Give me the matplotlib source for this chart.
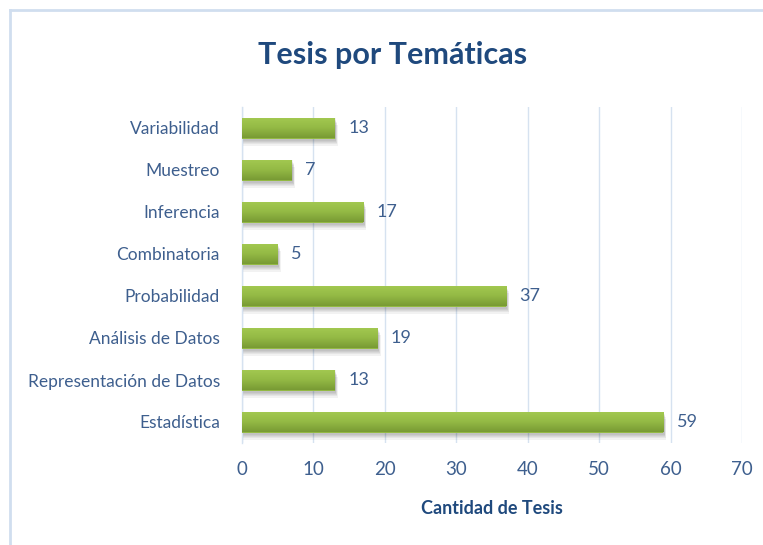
import matplotlib
matplotlib.use("Agg")
import matplotlib.pyplot as plt
import numpy as np
from matplotlib.patches import Rectangle
from matplotlib.lines import Line2D
from matplotlib.colors import LinearSegmentedColormap

categories = ["Variabilidad", "Muestreo", "Inferencia", "Combinatoria", "Probabilidad",
              "Análisis de Datos", "Representación de Datos", "Estadística"]
values = [13, 7, 17, 5, 37, 19, 13, 59]
xticks = [0, 10, 20, 30, 40, 50, 60, 70]

plt.rcParams['font.family'] = ['Lato', 'DejaVu Sans']
text_col = "#3E5F8E"
title_col = "#1F497D"
grid_col = "#D6E2F0"

fig = plt.figure(figsize=(7.63, 5.45), dpi=100)
ax = fig.add_axes([242/763, 1-443/545, 500/763, 336/545])

n = len(categories)
ypos = np.arange(n)[::-1]
h = 0.5

# soft shadows below bars
for y, v in zip(ypos, values):
    for k in range(6):
        ax.add_patch(Rectangle((0, y - h/2 - 0.02 - k*0.03), v + 0.1 + k*0.06, h,
                               facecolor="black", alpha=0.05, edgecolor="none", zorder=2))

bars = ax.barh(ypos, values, height=h, color="#93B944", edgecolor="none", zorder=3)
grad = np.linspace(0, 1, 100).reshape(-1, 1)
cmap = LinearSegmentedColormap.from_list("g", ["#A3C951", "#94BA45", "#789A34"])
for b in bars:
    x0, y0 = b.get_x(), b.get_y()
    w, hh = b.get_width(), b.get_height()
    im = ax.imshow(grad, extent=(x0, x0 + w, y0, y0 + hh), origin="upper",
                   cmap=cmap, aspect="auto", zorder=4)
    im.set_clip_path(b)

for y, v in zip(ypos, values):
    ax.annotate(str(v), (v, y), xytext=(9.5, 0), textcoords="offset points",
                va="center", ha="left", fontsize=13, color=text_col)

ax.set_xlim(0, 70)
ax.set_ylim(-0.5, n - 0.5)
ax.set_xticks(xticks)
ax.set_xticklabels([str(t) for t in xticks])
ax.set_yticks(ypos)
ax.set_yticklabels(categories)
ax.tick_params(axis="both", length=0, colors=text_col, labelsize=12.5)
ax.tick_params(axis="y", pad=16)
ax.tick_params(axis="x", pad=13, labelsize=13.5)
ax.xaxis.grid(True, color=grid_col, linewidth=1, zorder=0)
ax.set_axisbelow(True)
for s in ["top", "right", "bottom"]:
    ax.spines[s].set_visible(False)
ax.spines["left"].set_color(grid_col)
ax.spines["left"].set_linewidth(1)

ax.set_xlabel("Cantidad de Tesis", fontsize=13, fontweight="bold", color=title_col, labelpad=16)
fig.text(393/763, 1-55/545, "Tesis por Temáticas", ha="center", va="center",
         fontsize=22, fontweight="bold", color=title_col)

# chart border (left and top)
fig.add_artist(Line2D([10/763, 10/763], [0, 1-10/545], transform=fig.transFigure,
                      color="#D0DEEF", linewidth=2))
fig.add_artist(Line2D([10/763, 1], [1-10/545, 1-10/545], transform=fig.transFigure,
                      color="#D0DEEF", linewidth=2))

fig.savefig("out.png", dpi=100, facecolor="white")
